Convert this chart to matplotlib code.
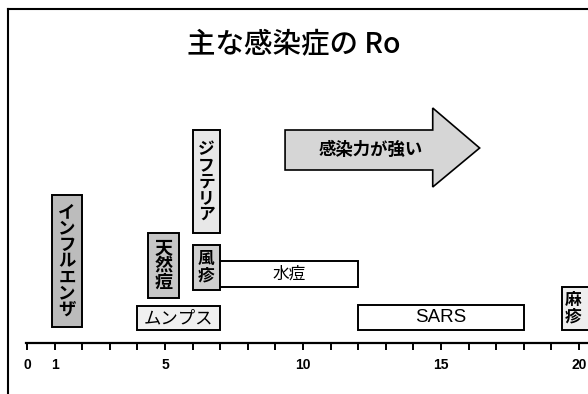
import matplotlib
matplotlib.use('Agg')
import matplotlib.pyplot as plt
from matplotlib.patches import Rectangle, Polygon
from matplotlib.lines import Line2D

plt.rcParams['font.family'] = ['Noto Sans CJK JP', 'DejaVu Sans']

# R0 ranges
diseases = ['インフルエンザ', 'ムンプス', '天然痘', 'ジフテリア', '風疹', '水痘', 'SARS', '麻疹']
r0_low = [0.9, 4, 4.4, 6, 6, 7, 12, 19.4]
r0_high = [2, 7, 5.5, 7, 7, 12, 18, 21]

tick_values = list(range(0, 21))
tick_labels = ['0', '1', '', '', '', '5', '', '', '', '', '10',
               '', '', '', '', '15', '', '', '', '', '20']

# layout only: vertical extent (pixel rows), vertical text?, fill, bold, font size
layout = {
    'インフルエンザ': (195, 327, True, '#bcbcbc', True, 12.5),
    'ムンプス': (306, 330, False, '#f0f0f0', False, 12.5),
    '天然痘': (233, 298, True, '#c6c6c6', True, 13),
    'ジフテリア': (130, 233, True, '#e8e8e8', True, 12),
    '風疹': (245, 290, True, '#cfcfcf', True, 12),
    '水痘': (261, 287, False, '#ffffff', False, 12),
    'SARS': (305, 330, False, '#ffffff', False, 13.5),
    '麻疹': (287, 330, True, '#eeeeee', True, 12),
}

fig = plt.figure(figsize=(5.88, 3.94), dpi=100)
ax = fig.add_axes([0, 0, 1, 1])
ax.set_xlim(-27 / 27.6, (588 - 27) / 27.6)
ax.set_ylim(394, 0)

for name, lo, hi in zip(diseases, r0_low, r0_high):
    top, bot, vert, fc, bold, fs = layout[name]
    ax.add_patch(Rectangle((lo, top), hi - lo, bot - top, facecolor=fc,
                           edgecolor='black', lw=1.4, zorder=2))
    txt = '\n'.join(name) if vert else name
    fam = ['Liberation Sans', 'Noto Sans CJK JP'] if name == 'SARS' else None
    # measles box runs off the right edge, so keep its text near the left side
    if hi > 20.3:
        x, ha = lo + 0.08, 'left'
    else:
        x, ha = (lo + hi) / 2, 'center'
    ax.text(x, (top + bot) / 2, txt, ha=ha, va='center',
            fontsize=fs, fontweight='bold' if bold else 'normal',
            linespacing=0.88, family=fam, zorder=3)

# big arrow: "stronger infectivity"
arrow = Polygon([(9.35, 130), (14.7, 130), (14.7, 108), (16.4, 148),
                 (14.7, 187), (14.7, 170), (9.35, 170)],
                closed=True, facecolor='#d6d6d6', edgecolor='black', lw=1.2)
ax.add_patch(arrow)
ax.text(12.45, 150, '感染力が強い', ha='center', va='center', fontsize=12.5,
        fontweight='bold')

ax.text(9.65, 44, '主な感染症の Ro', ha='center', va='center', fontsize=20.5,
        fontweight='medium')

# axis
for s in ['top', 'left', 'right']:
    ax.spines[s].set_visible(False)
ax.spines['bottom'].set_position(('data', 343))
ax.spines['bottom'].set_bounds(-0.05, 20.4)
ax.spines['bottom'].set_linewidth(1.6)
ax.set_xticks(tick_values)
ax.set_xticklabels(tick_labels, fontweight='bold', family='Liberation Sans',
                   fontsize=10)
ax.tick_params(axis='x', direction='out', length=5, width=1.4, pad=6)
ax.set_yticks([])
ax.patch.set_visible(False)

# outer frame (top and left edges)
fig.add_artist(Line2D([8 / 588, 1], [1 - 9 / 394, 1 - 9 / 394], color='black', lw=1.5))
fig.add_artist(Line2D([8 / 588, 8 / 588], [0, 1 - 9 / 394], color='black', lw=1.5))

fig.savefig('out.png', dpi=100)
